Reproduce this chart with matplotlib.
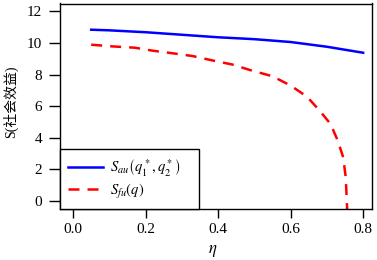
import numpy as np
import matplotlib
matplotlib.use("Agg")
import matplotlib.pyplot as plt

plt.rcParams['font.family'] = ['Liberation Serif', 'Noto Sans CJK SC', 'DejaVu Sans']
plt.rcParams['mathtext.fontset'] = 'stix'
plt.rcParams['lines.scale_dashes'] = False

# data
eta_au = [0.05, 0.10, 0.20, 0.30, 0.40, 0.50, 0.60, 0.70, 0.80]
s_au = [10.84, 10.80, 10.68, 10.52, 10.36, 10.24, 10.06, 9.76, 9.38]

eta_fu = [0.05, 0.11, 0.17, 0.22, 0.28, 0.33, 0.385, 0.44, 0.49, 0.55,
          0.60, 0.645, 0.68, 0.71, 0.73, 0.745, 0.752, 0.756]
s_fu = [9.89, 9.78, 9.70, 9.51, 9.33, 9.17, 8.89, 8.63, 8.27, 7.89,
        7.30, 6.60, 5.71, 4.87, 3.81, 2.75, 1.48, -0.6]

xticks = [0.0, 0.2, 0.4, 0.6, 0.8]
yticks = [0, 2, 4, 6, 8, 10, 12]

fig = plt.figure(figsize=(3.77, 2.6), dpi=100)
ax = fig.add_axes([60 / 377, 1 - 208.7 / 260, 311.5 / 377, 205.2 / 260])

ax.plot(eta_au, s_au, color='#0000ff', lw=1.8, label=r'$S_{au}\left(q_1^*,q_2^*\right)$')
ax.plot(eta_fu, s_fu, color='#ff0000', lw=1.8, dashes=(7.9, 5.8),
        label=r'$S_{fu}\left(q\right)$')

ax.set_xlim(-0.036, 0.823)
ax.set_ylim(-0.5, 12.5)
ax.set_xticks(xticks)
ax.set_xticklabels(['%.1f' % t for t in xticks])
ax.set_yticks(yticks)

for s in ax.spines.values():
    s.set_linewidth(1.0)
ax.tick_params(axis='y', length=8, width=1.0, pad=5, labelsize=11)
ax.tick_params(axis='x', length=6.5, width=1.0, pad=4, labelsize=11)

ax.set_ylabel('S(社会效益)', fontsize=10)
ax.yaxis.set_label_coords(-0.135, 0.52)
ax.set_xlabel(r'$\eta$', fontsize=12)
ax.xaxis.set_label_coords(0.49, -0.165)

# legend box sits in the lower left corner, sharing the axes edges
leg = ax.legend(loc='lower left', bbox_to_anchor=(0, 0, 0.447, 0.28), mode='expand',
                borderaxespad=0, fancybox=False, edgecolor='black', framealpha=1,
                fontsize=10.5, handlelength=2.4, handletextpad=0.45, borderpad=0.55,
                labelspacing=0.25)
leg.get_frame().set_linewidth(1.0)

fig.savefig('out.png', dpi=100)
plt.close(fig)
